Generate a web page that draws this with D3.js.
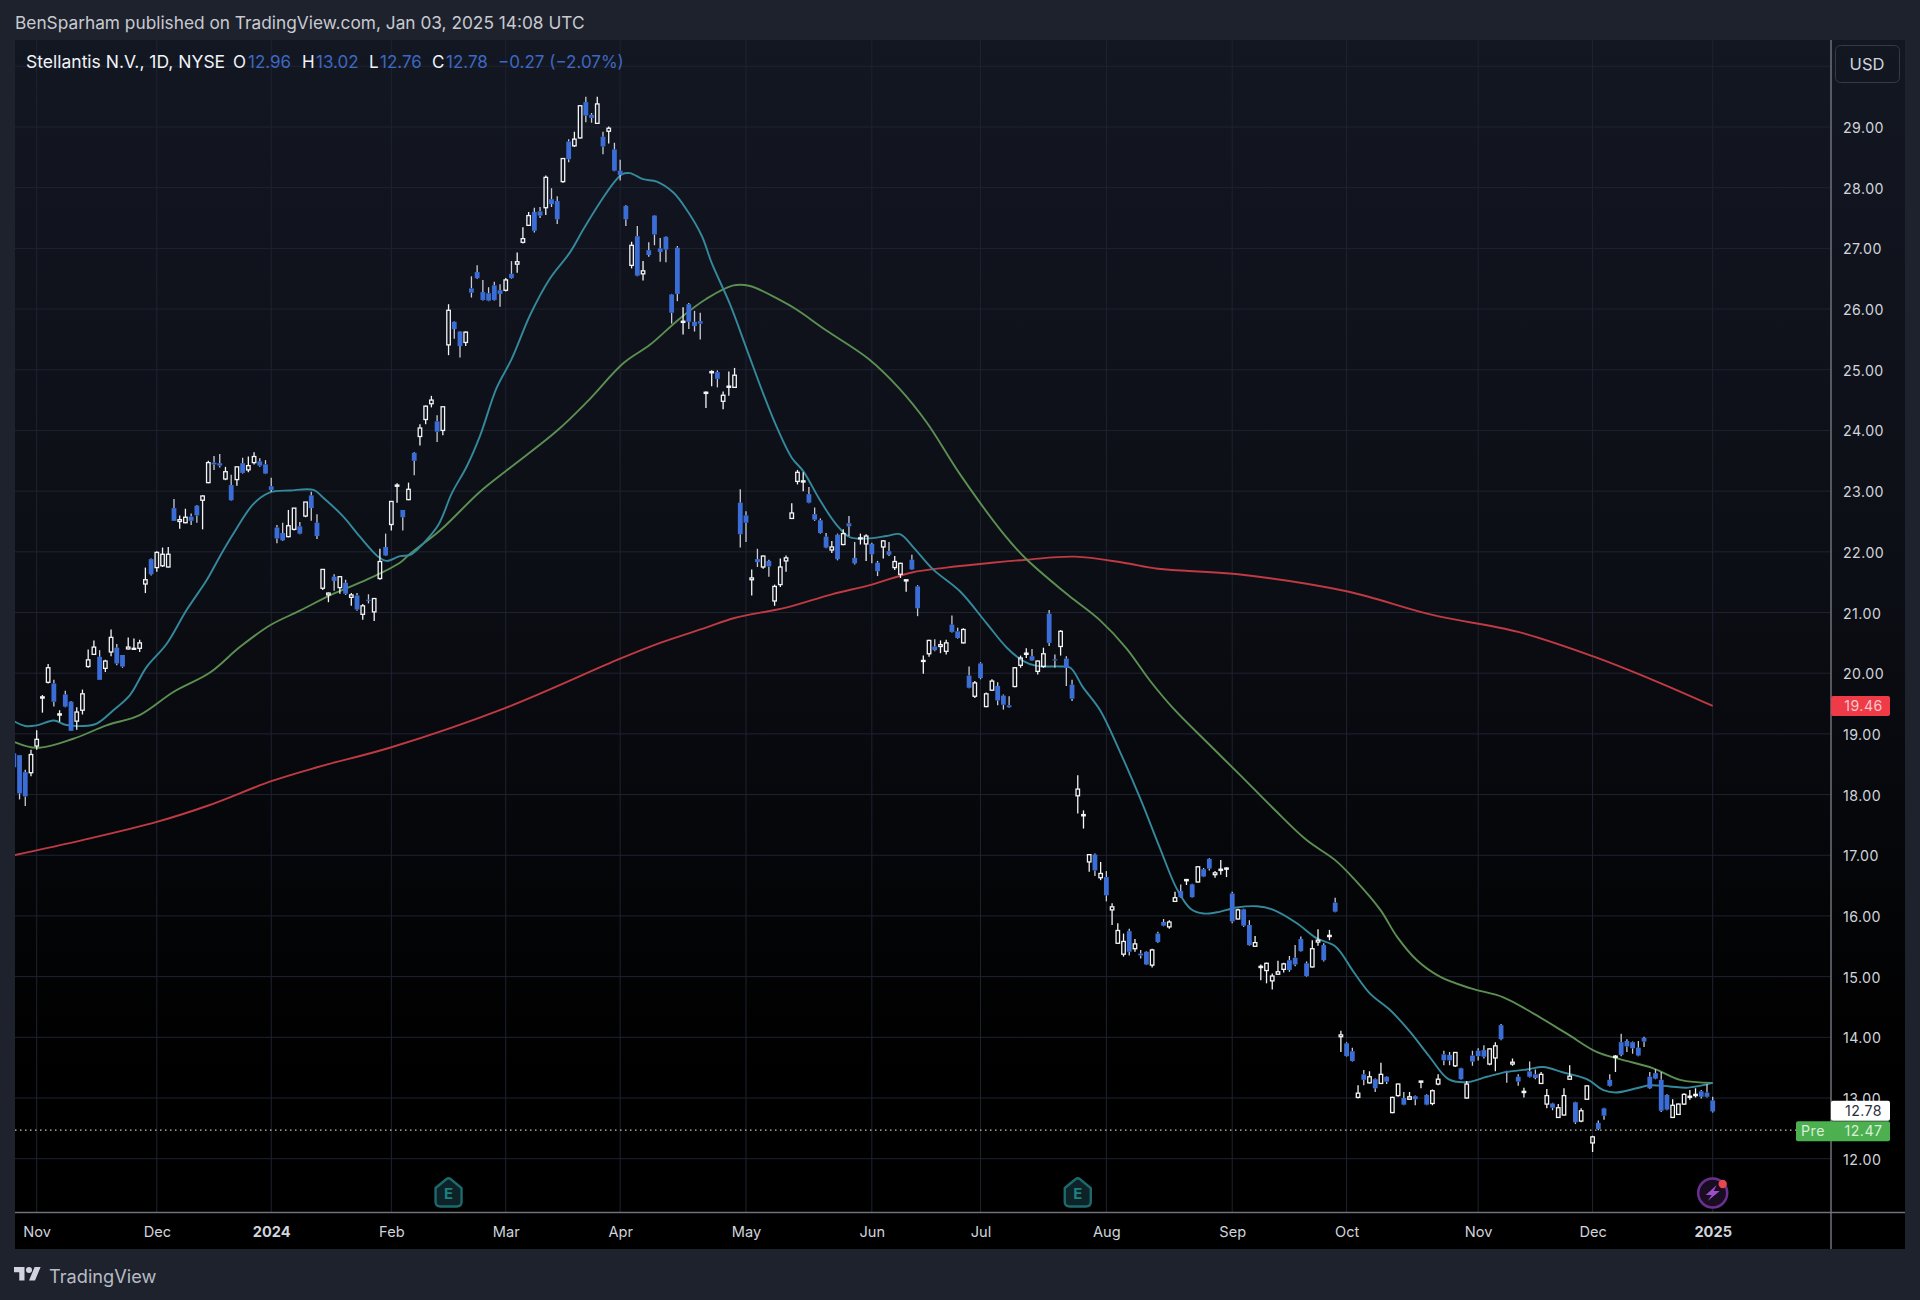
<!DOCTYPE html>
<html><head><meta charset="utf-8">
<script src="https://cdn.jsdelivr.net/npm/d3@7/dist/d3.min.js"></script>
<style>
html,body{margin:0;padding:0;background:#1e222d;width:1920px;height:1300px;overflow:hidden}
svg{display:block}
text{font-family:Inter,"Noto Sans",sans-serif}
.py text,.px text{fill:#d1d4dc}
</style></head><body><svg id="c" width="1920" height="1300"></svg>
<script>
// Candles run from day index -4 to 293; index 0 is 1 Nov 2023.
const firstDay = -4;
const highs = [
18.70,18.65,18.41,18.74,19.06,19.64,20.15,19.89,19.39,19.71,
19.54,19.44,19.73,20.39,20.54,20.38,20.22,20.72,20.48,20.30,
20.59,20.57,20.55,21.74,21.89,22.01,22.07,22.08,22.87,22.60,
22.71,22.63,22.77,22.93,23.50,23.58,23.61,23.40,23.27,23.40,
23.55,23.57,23.64,23.54,23.51,23.22,22.44,22.48,22.69,22.72,
22.49,22.82,22.99,22.62,21.71,21.33,21.63,21.60,21.54,21.32,
21.32,21.14,21.30,21.24,22.05,22.30,22.83,23.13,22.69,23.14,
23.64,24.10,24.41,24.57,24.25,24.39,26.08,25.80,25.64,25.63,
26.54,26.72,26.48,26.36,26.45,26.41,26.51,26.79,26.93,27.35,
27.60,27.67,27.68,28.20,27.99,27.86,28.48,28.80,28.92,29.36,
29.50,29.23,29.50,28.92,29.01,28.74,28.46,27.71,27.11,27.37,
26.79,27.10,27.55,27.17,27.20,26.25,27.04,26.03,26.10,25.97,
25.94,24.64,24.99,24.99,24.64,24.97,25.03,23.03,22.67,21.71,
22.05,21.94,21.87,21.46,21.89,21.94,22.80,23.35,23.31,23.07,
22.73,22.55,22.31,22.18,22.30,22.37,22.59,22.16,22.30,22.29,
22.15,21.85,22.19,22.16,21.93,21.82,21.54,21.95,21.45,20.29,
20.55,20.56,20.54,20.55,20.95,20.75,20.74,20.11,19.87,20.18,
19.68,19.90,19.85,19.65,19.62,20.10,20.29,20.41,20.40,20.21,
20.42,21.04,20.31,20.71,20.28,19.89,18.32,17.74,17.01,17.03,
16.89,16.74,16.21,15.88,15.71,15.79,15.62,15.44,15.42,15.46,
15.74,15.95,15.93,16.40,16.52,16.61,16.53,16.82,16.79,16.95,
16.74,16.92,16.80,16.40,16.12,16.12,15.93,15.67,15.20,15.23,
15.05,15.26,15.23,15.34,15.52,15.66,15.25,15.60,15.78,15.55,
15.77,16.30,14.11,13.92,13.83,13.21,13.46,13.44,13.32,13.58,
13.36,13.02,13.24,13.10,13.10,13.04,13.28,13.06,13.14,13.39,
13.78,13.76,13.76,13.50,13.28,13.78,13.82,13.87,13.82,13.92,
14.22,13.45,13.65,13.39,13.17,13.60,13.47,13.43,13.15,12.92,
12.90,13.16,13.54,12.94,12.83,13.21,12.38,12.63,12.84,13.39,
13.71,14.06,13.97,13.93,13.94,14.01,13.43,13.48,13.43,13.06,
12.98,12.91,13.08,13.13,13.16,13.13,13.23,13.02];
const bodyTops = [
18.68,18.65,18.37,18.66,18.91,19.61,20.09,19.83,19.33,19.65,
19.53,19.36,19.66,20.22,20.43,20.27,20.20,20.59,20.42,20.30,
20.43,20.41,20.50,21.54,21.88,21.99,21.96,21.96,22.72,22.53,
22.57,22.58,22.76,22.92,23.47,23.47,23.46,23.32,23.10,23.40,
23.46,23.42,23.57,23.49,23.44,23.08,22.40,22.31,22.43,22.72,
22.42,22.82,22.93,22.48,21.71,21.32,21.59,21.59,21.49,21.29,
21.28,21.11,21.21,21.23,21.84,22.08,22.83,23.10,22.69,23.03,
23.63,24.04,24.40,24.50,24.15,24.39,25.98,25.79,25.63,25.62,
26.34,26.61,26.28,26.26,26.39,26.31,26.48,26.58,26.78,27.16,
27.54,27.60,27.61,28.17,27.81,27.78,28.48,28.76,28.80,29.35,
29.41,29.20,29.38,28.84,28.98,28.63,28.28,27.70,27.05,27.20,
26.63,26.97,27.54,27.00,27.19,26.24,27.01,25.80,26.08,25.79,
25.80,24.63,24.97,24.96,24.58,24.73,24.91,22.81,22.60,21.57,
21.88,21.93,21.85,21.43,21.75,21.90,22.64,23.31,23.17,22.95,
22.62,22.52,22.25,22.08,22.28,22.30,22.47,21.90,22.23,22.26,
22.13,21.82,22.18,22.01,21.84,21.81,21.54,21.87,21.43,20.21,
20.54,20.44,20.47,20.50,20.80,20.69,20.72,19.96,19.84,20.16,
19.66,19.87,19.79,19.63,19.47,20.09,20.25,20.33,20.28,20.20,
20.32,20.98,20.23,20.69,20.24,19.81,18.09,17.67,17.01,17.01,
16.70,16.64,16.15,15.76,15.58,15.75,15.54,15.38,15.41,15.44,
15.71,15.90,15.90,16.30,16.41,16.60,16.52,16.81,16.77,16.94,
16.71,16.77,16.79,16.37,16.10,16.11,15.85,15.56,15.17,15.22,
15.01,15.08,15.21,15.27,15.31,15.62,15.22,15.46,15.60,15.52,
15.68,16.22,14.04,13.90,13.77,13.08,13.39,13.35,13.31,13.39,
13.35,13.01,13.23,13.00,13.02,13.03,13.28,13.05,13.12,13.31,
13.72,13.71,13.75,13.49,13.23,13.70,13.78,13.79,13.81,13.86,
14.20,13.44,13.59,13.35,13.11,13.44,13.39,13.39,13.04,12.91,
12.84,13.04,13.36,12.93,12.79,13.20,12.36,12.59,12.83,13.30,
13.69,13.92,13.94,13.92,13.83,13.99,13.35,13.41,13.30,13.05,
12.88,12.90,13.06,13.03,13.06,13.11,13.09,12.96];
const bodyBottoms = [
18.45,18.02,17.97,18.36,18.80,19.59,19.85,19.53,19.31,19.45,
19.05,19.21,19.39,20.11,20.31,19.89,20.08,20.35,20.16,20.11,
20.40,20.40,20.41,21.47,21.63,21.74,21.77,21.75,22.51,22.50,
22.48,22.51,22.60,22.85,23.14,23.44,23.42,23.20,22.85,23.19,
23.30,23.35,23.47,23.42,23.29,23.02,22.22,22.19,22.25,22.37,
22.30,22.59,22.72,22.26,21.40,21.29,21.52,21.41,21.31,21.25,
21.05,20.97,21.20,21.01,21.56,21.94,22.45,23.08,22.57,22.86,
23.50,23.90,24.18,24.44,23.98,24.00,25.41,25.67,25.39,25.45,
26.27,26.51,26.15,26.14,26.15,26.25,26.31,26.51,26.74,27.10,
27.38,27.29,27.54,27.67,27.73,27.48,28.10,28.47,28.69,28.82,
29.19,29.15,29.06,28.68,28.93,28.28,28.21,27.48,26.72,26.55,
26.58,26.89,27.23,26.94,26.98,25.94,26.25,25.78,25.79,25.72,
25.76,24.61,24.95,24.85,24.48,24.71,24.71,22.29,22.48,21.54,
21.83,21.75,21.76,21.19,21.46,21.85,22.55,23.16,23.15,22.81,
22.53,22.31,22.07,22.03,21.88,22.12,22.42,21.81,22.22,22.13,
21.96,21.68,22.08,21.95,21.74,21.63,21.52,21.71,21.07,20.20,
20.32,20.38,20.44,20.36,20.68,20.58,20.50,19.76,19.62,19.92,
19.45,19.72,19.55,19.48,19.44,19.78,20.13,20.31,20.21,20.03,
20.11,20.50,20.21,20.44,20.09,19.58,17.98,17.65,16.89,16.75,
16.63,16.34,16.10,15.55,15.37,15.41,15.46,15.35,15.20,15.19,
15.57,15.84,15.82,16.24,16.31,16.58,16.31,16.56,16.65,16.78,
16.68,16.75,16.77,15.91,15.95,15.84,15.52,15.50,15.15,15.10,
14.93,15.04,15.12,15.11,15.20,15.42,15.01,15.16,15.57,15.27,
15.66,16.07,14.01,13.69,13.61,13.01,13.30,13.25,13.16,13.24,
13.27,12.76,13.04,12.89,12.98,12.98,13.26,12.89,12.91,13.23,
13.62,13.62,13.53,13.31,13.00,13.60,13.69,13.68,13.56,13.66,
13.97,13.42,13.56,13.27,13.09,13.35,13.33,13.24,12.90,12.84,
12.68,12.72,13.31,12.60,12.62,12.98,12.26,12.49,12.71,13.20,
13.67,13.71,13.85,13.82,13.70,13.93,13.16,13.32,12.79,12.81,
12.68,12.73,12.90,13.01,13.04,13.02,13.02,12.78];
const lows = [
18.45,17.92,17.81,18.30,18.74,19.35,19.83,19.45,19.20,19.44,
19.05,19.07,19.32,20.09,20.30,19.89,20.02,20.28,20.13,20.09,
20.39,20.39,20.35,21.32,21.61,21.67,21.75,21.74,22.51,22.38,
22.47,22.44,22.48,22.37,23.13,23.35,23.39,23.18,22.84,23.09,
23.29,23.31,23.44,23.40,23.28,22.99,22.14,22.18,22.24,22.35,
22.29,22.57,22.51,22.21,21.37,21.17,21.36,21.31,21.29,21.11,
21.03,20.88,21.15,20.86,21.54,21.93,22.35,22.81,22.35,22.85,
23.26,23.75,24.10,24.38,23.81,23.92,25.24,25.51,25.20,25.39,
26.19,26.50,26.14,26.13,26.14,26.04,26.29,26.50,26.60,27.08,
27.37,27.26,27.50,27.55,27.68,27.40,28.08,28.42,28.67,28.81,
29.08,29.07,29.05,28.55,28.73,28.27,28.12,27.37,26.67,26.54,
26.47,26.86,27.05,26.78,26.77,25.76,26.13,25.58,25.67,25.63,
25.50,24.37,24.73,24.71,24.35,24.57,24.70,22.07,22.16,21.28,
21.75,21.72,21.59,21.11,21.42,21.67,22.54,23.11,23.00,22.80,
22.51,22.30,22.06,21.98,21.86,22.11,22.26,21.79,22.12,21.85,
21.81,21.60,21.89,21.93,21.70,21.57,21.34,21.70,20.94,19.99,
20.27,20.36,20.33,20.31,20.67,20.57,20.49,19.75,19.59,19.90,
19.44,19.71,19.47,19.40,19.43,19.77,20.09,20.25,20.20,19.98,
20.09,20.45,20.09,20.29,19.79,19.54,17.69,17.44,16.73,16.66,
16.59,16.24,15.85,15.54,15.33,15.35,15.41,15.30,15.19,15.15,
15.56,15.83,15.79,16.23,16.30,16.51,16.30,16.55,16.64,16.75,
16.63,16.68,16.64,15.88,15.94,15.82,15.51,15.49,14.94,14.89,
14.79,15.03,15.07,15.08,15.17,15.41,15.00,15.15,15.51,15.25,
15.60,16.06,13.76,13.68,13.60,12.99,13.21,13.24,13.10,13.23,
13.23,12.75,13.02,12.88,12.97,12.88,13.16,12.88,12.88,13.21,
13.54,13.54,13.51,13.30,12.99,13.53,13.62,13.65,13.54,13.44,
13.95,13.25,13.53,13.20,13.01,13.34,13.31,13.23,12.83,12.80,
12.67,12.71,13.30,12.57,12.60,12.98,12.11,12.47,12.64,13.19,
13.43,13.69,13.76,13.73,13.69,13.84,13.15,13.31,12.77,12.80,
12.67,12.72,12.89,12.97,13.01,12.99,13.01,12.76];
// u = close above open (hollow), d = close below open (filled)
const directions = (
"ddduuuudud"+"duuuuduudd"+"uuuuduuudu"+"udduuddudu"+"duuddddduu"+
"dudduududu"+"duduuduudu"+"duuuduuddu"+"dddddduduu"+"uddudduduu"+
"ddududddud"+"uddddddudd"+"duuduuuddu"+"duduuuuuud"+"dddududduu"+
"dduduuuddu"+"uduuddudud"+"uuddduuudu"+"uddudduuud"+"uduuududdu"+
"dduudududd"+"uuududduuu"+"uuudddduud"+"ududdududu"+"duudududuu"+
"ddududdduu"+"ddududduud"+"uuuduuuddd"+"uddddddddd"+"uuuuuddd").split("");

const ma20Days = [-4,-2,0,3,5,8,10.5,13.4,16.3,19.2,22.7,26.2,29.7,32,34.4,37.9,40.8,44.3,48.4,50,53.6,56.5,59.7,61.2,63.5,65.3,67.6,70.2,72.6,75.2,77.5,80.4,83,86.3,89.7,93.2,95.6,98.5,100.8,102.3,103.7,106,108.4,111.3,113.6,116.3,118,121.2,124.2,127,129.4,132,134,137,139.8,142.2,145.1,148.6,150.9,153.3,156.7,161.4,166,169.6,172.5,174.8,178.9,180.7,182.9,185.9,189.4,192.9,196.4,199.3,201.7,204,206.3,209.8,213.3,216.2,220.3,223.8,227,230.2,233.1,236.6,240.1,243.5,246.8,250,253.5,257,260.5,263.4,266.9,271,273.9,276,279.7,282,285.5,288.4,290.7,293];
const ma20Values = [19.21,19.13,19.14,19.22,19.15,19.13,19.17,19.39,19.64,20.1,20.48,21.04,21.53,21.92,22.3,22.79,22.98,23.01,23.02,22.9,22.58,22.25,21.92,21.85,21.93,21.95,22.14,22.44,22.97,23.41,23.91,24.7,25.17,25.91,26.5,26.93,27.32,27.76,28.07,28.22,28.24,28.14,28.1,27.92,27.64,27.2,26.76,26.08,25.32,24.61,24.05,23.55,23.33,22.84,22.45,22.24,22.22,22.26,22.29,22.07,21.71,21.35,20.83,20.42,20.2,20.12,20.11,20.09,19.77,19.39,18.7,17.94,17.11,16.45,16.12,16.04,16.06,16.14,16.16,16.1,15.88,15.63,15.5,15.08,14.72,14.45,14.09,13.68,13.31,13.26,13.35,13.43,13.47,13.51,13.42,13.31,13.13,13.09,13.16,13.21,13.19,13.17,13.2,13.25];
const ma50Days = [-4,0,6.4,12.2,18,23.9,30.3,35.5,40.8,46,51.9,57.7,63.5,65.3,70.5,77.5,82.7,90.9,96.2,102.6,107.2,112.5,117.1,121.8,124.7,129.9,132.7,138,145.4,150.9,155.6,161.4,169,172.9,179.5,181.5,185.9,190.5,194.6,198.7,204.5,210.4,216.2,222,227,230.5,234.9,237.8,241.3,245.3,250.6,256.4,261.7,267.5,272.7,276.8,282.6,287.3,293];
const ma50Values = [18.87,18.77,18.92,19.14,19.31,19.69,20.01,20.43,20.79,21.03,21.31,21.54,21.82,21.97,22.35,22.99,23.38,23.99,24.47,25.11,25.41,25.85,26.17,26.39,26.38,26.15,26.0,25.65,25.18,24.68,24.13,23.28,22.3,21.89,21.35,21.2,20.87,20.41,19.88,19.42,18.87,18.32,17.77,17.25,16.92,16.59,16.1,15.66,15.27,15.0,14.81,14.66,14.39,14.06,13.76,13.64,13.49,13.3,13.25];
const ma200Days = [-4,8,21,30,41,49,62,82,102,109,117,122,131,139,146,153,159,167,173,181.5,190,196,210,229,244,259,272,283,293];
const ma200Values = [17.0,17.25,17.55,17.82,18.22,18.45,18.78,19.43,20.24,20.5,20.75,20.91,21.08,21.3,21.46,21.66,21.74,21.82,21.87,21.92,21.82,21.72,21.63,21.35,20.96,20.68,20.28,19.87,19.46];

const monthDays = [0,21,41,62,82,102,124,146,165,187,209,229,252,272,293];
const monthLabels = ["Nov","Dec","2024","Feb","Mar","Apr","May","Jun","Jul","Aug","Sep","Oct","Nov","Dec","2025"];
const boldLabels = ["2024","2025"];
const priceTicks = [12,13,14,15,16,17,18,19,20,21,22,23,24,25,26,27,28,29];
const gridPrices = [12,13,14,15,16,17,18,19,20,21,22,23,24,25,26,27,28,29,30];
const earningsDays = [72,182];
const lastDay = 293;
const lastClose = 12.78, prePrice = 12.47, ma200Last = 19.46;
const legendParts = [
 ["Stellantis N.V., 1D, NYSE",26,"#f0f3fa",17.5],["O",233,"#f0f3fa",17],["12.96",248,"#3d68c4",17],
 ["H",302,"#f0f3fa",17],["13.02",316,"#3d68c4",17],["L",369,"#f0f3fa",17],["12.76",380,"#3d68c4",17],
 ["C",432,"#f0f3fa",17],["12.78",446,"#3d68c4",17],["\u22120.27 (\u22122.07%)",498,"#3d68c4",17]];

const frame = {l:15,r:1905,t:40,b:1249}, axisX = 1831, axisY = 1212.5;
const x = d3.scaleLinear().domain([0,293]).range([36.7,1712.7]);
const y = d3.scaleLinear().domain([12,29]).range([1158.7,127]);
const svg = d3.select("#c");
const candles = highs.map((h,i)=>({day:firstDay+i,high:h,low:lows[i],top:bodyTops[i],bottom:bodyBottoms[i],dir:directions[i]}));

const defs = svg.append("defs");
const g = defs.append("linearGradient").attr("id","bg").attr("x1",0).attr("x2",0).attr("y1",0).attr("y2",1);
g.append("stop").attr("offset",0).attr("stop-color","#131722");
g.append("stop").attr("offset",0.45).attr("stop-color","#0c0e15");
g.append("stop").attr("offset",0.85).attr("stop-color","#000000");
defs.append("clipPath").attr("id","plot").append("rect").attr("x",frame.l).attr("y",frame.t).attr("width",axisX-frame.l).attr("height",axisY-frame.t);

svg.append("rect").attr("width",1920).attr("height",1300).attr("fill","#1e222d");
svg.append("rect").attr("x",frame.l).attr("y",frame.t).attr("width",frame.r-frame.l).attr("height",frame.b-frame.t).attr("fill","url(#bg)");

// grid
const grid = svg.append("g").attr("stroke","#1f2330").attr("stroke-width",1);
grid.selectAll("line.h").data(gridPrices).join("line").attr("x1",frame.l).attr("x2",axisX).attr("y1",d=>y(d)).attr("y2",d=>y(d));
grid.selectAll("line.v").data(monthDays).join("line").attr("y1",frame.t).attr("y2",axisY).attr("x1",d=>x(d)).attr("x2",d=>x(d));

const plot = svg.append("g").attr("clip-path","url(#plot)");
// pre-market dotted line
plot.append("line").attr("x1",frame.l).attr("x2",axisX).attr("y1",y(prePrice)).attr("y2",y(prePrice))
 .attr("stroke","#c9c9a8").attr("stroke-width",1.2).attr("stroke-dasharray","1.5 3.5");
// moving averages
const lineGen = d3.line().x(d=>x(d[0])).y(d=>y(d[1])).curve(d3.curveCatmullRom.alpha(0.5));
[[ma200Days,ma200Values,"#c03a43"],[ma50Days,ma50Values,"#5c8f52"],[ma20Days,ma20Values,"#35899c"]].forEach(([a,b,c])=>{
 plot.append("path").attr("d",lineGen(a.map((v,i)=>[v,b[i]]))).attr("fill","none").attr("stroke",c).attr("stroke-width",1.9);
});
// candles
const bw = 4.8, up="#f4f5f7", down="#3b6dd6", wickDown="#c9ccd6";
const cg = plot.selectAll("g.k").data(candles).join("g").attr("class","k");
cg.append("line").attr("x1",d=>x(d.day)).attr("x2",d=>x(d.day)).attr("y1",d=>y(d.high)).attr("y2",d=>y(d.top))
  .attr("stroke",d=>d.dir==="u"?up:wickDown).attr("stroke-width",1.3);
cg.append("line").attr("x1",d=>x(d.day)).attr("x2",d=>x(d.day)).attr("y1",d=>y(d.bottom)).attr("y2",d=>y(d.low))
  .attr("stroke",d=>d.dir==="u"?up:wickDown).attr("stroke-width",1.3);
cg.append("rect")
  .attr("x",d=>x(d.day)-(d.dir==="u"?bw/2-0.65:bw/2))
  .attr("width",d=>d.dir==="u"?bw-1.3:bw)
  .attr("y",d=>y(d.top)).attr("height",d=>Math.max(1,y(d.bottom)-y(d.top)))
  .attr("fill",d=>d.dir==="u"?"none":down).attr("stroke",d=>d.dir==="u"?up:"none").attr("stroke-width",1.3);

// axes
const py = svg.append("g").attr("class","py").attr("transform",`translate(${axisX},1)`)
 .call(d3.axisRight(y).tickValues(priceTicks).tickFormat(d3.format(".2f")).tickSize(0).tickPadding(12));
py.select(".domain").remove();
py.selectAll("text").attr("font-size",14.2).attr("letter-spacing","0.45px");
const px = svg.append("g").attr("class","px").attr("transform",`translate(0,${axisY})`)
 .call(d3.axisBottom(x).tickValues(monthDays).tickFormat((d,i)=>monthLabels[i]).tickSize(0).tickPadding(14));
px.select(".domain").remove();
px.selectAll("text").attr("font-size",14.6)
  .attr("font-weight",(d,i)=>boldLabels.includes(monthLabels[i])?700:400);

// axis borders
const border="#6f727a";
svg.append("line").attr("x1",frame.l).attr("x2",frame.r).attr("y1",axisY).attr("y2",axisY).attr("stroke",border).attr("stroke-width",1.5);
svg.append("line").attr("x1",axisX).attr("x2",axisX).attr("y1",frame.t).attr("y2",frame.b).attr("stroke",border).attr("stroke-width",1.5);

// price labels
function tag(yc,x0,x1,fill){svg.append("rect").attr("x",x0).attr("y",yc-10).attr("width",x1-x0).attr("height",20).attr("rx",2).attr("fill",fill);}
function tagText(s,xc,yc,fill){svg.append("text").attr("x",xc).attr("y",yc).attr("dy","0.36em").attr("text-anchor","middle").attr("font-size",14.2).attr("letter-spacing","0.45px").attr("fill",fill).text(s);}
tag(y(ma200Last),axisX,1890,"#ef3a48");
tagText(d3.format(".2f")(ma200Last),1863.5,y(ma200Last),"#f5c6ca");
tag(y(lastClose)-.5,axisX,1890,"#ffffff");
tagText(d3.format(".2f")(lastClose),1863.5,y(lastClose)-.5,"#2a2e39");
tag(y(prePrice)+1,1796,1890,"#4caf50");
tagText("Pre",1813,y(prePrice)+1,"#d8f0d9");
tagText(d3.format(".2f")(prePrice),1863.5,y(prePrice)+1,"#d8f0d9");

// USD box
svg.append("rect").attr("x",1835.5).attr("y",45.5).attr("width",64).attr("height",37).attr("rx",5).attr("fill","none").attr("stroke","#363a45");
svg.append("text").attr("x",1867).attr("y",64).attr("dy","0.36em").attr("text-anchor","middle").attr("font-size",16.5).attr("fill","#d1d4dc").text("USD");

// earnings flags
const flags = svg.append("g").selectAll("g").data(earningsDays).join("g").attr("transform",d=>`translate(${x(d)},0)`);
flags.append("path").attr("d","M-13,1188 L-2,1179 Q0,1177.5 2,1179 L13,1188 L13,1202 Q13,1206.5 8,1206.5 L-8,1206.5 Q-13,1206.5 -13,1202 Z")
 .attr("fill","#0d2327").attr("stroke","#1c6a6d").attr("stroke-width",2.4);
flags.append("text").attr("y",1194).attr("dy","0.36em").attr("text-anchor","middle").attr("font-size",15).attr("font-weight",700).attr("fill","#1f8080").text("E");

// event icon
const ev = svg.append("g").attr("transform",`translate(${x(lastDay)},1193)`);
ev.append("circle").attr("r",14.5).attr("fill","#1a0d22").attr("stroke","#6b2f8f").attr("stroke-width",2.5);
ev.append("path").attr("d","M4,-8 L-7,2 L-1,2 L-5,8 L7,-2 L1,-2 Z").attr("fill","#9c4fc9");
ev.append("circle").attr("cx",10).attr("cy",-9).attr("r",4.2).attr("fill","#e8474f");

// header texts
svg.append("text").attr("x",15).attr("y",23).attr("dy","0.36em").attr("font-size",17.3).attr("fill","#c8cad1").text("BenSparham published on TradingView.com, Jan 03, 2025 14:08 UTC");
svg.append("g").selectAll("text").data(legendParts).join("text").attr("x",d=>d[1]).attr("y",62).attr("dy","0.36em").attr("font-size",d=>d[3]).attr("fill",d=>d[2]).text(d=>d[0]);

// logo
const logo = svg.append("g").attr("transform","translate(14,1264) scale(0.75)").attr("fill","#d1d4dc");
logo.append("path").attr("d","M14 22H7V11H0V4h14v18zM28 22h-8l7.5-18h8L28 22z");
logo.append("circle").attr("cx",20).attr("cy",8).attr("r",4);
svg.append("text").attr("x",49).attr("y",1276).attr("dy","0.36em").attr("font-size",18.2).attr("fill","#b8bbc4").text("TradingView");
</script></body></html>
